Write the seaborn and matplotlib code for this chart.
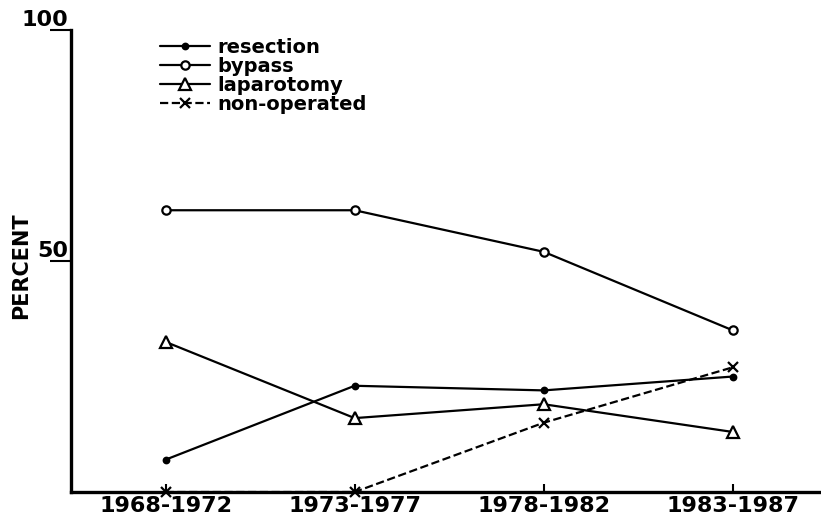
import seaborn as sns
import matplotlib.pyplot as plt
import pandas as pd

periods = ["1968-1972", "1973-1977", "1978-1982", "1983-1987"]
resection = [7, 23, 22, 25]
bypass = [61, 61, 52, 35]
laparotomy = [32.5, 16, 19, 13]
non_operated = [0, 0, 15, 27]

sns.set_theme(style="white")
plt.rcParams['font.family'] = ['DejaVu Sans']

fig = plt.figure(figsize=(8.21, 5.19), dpi=100)
ax = fig.add_axes([0.0865, 0.052, 0.912, 0.89])

x = list(range(len(periods)))
series = [
    ("resection", resection, dict(marker='o', markersize=4, linestyle='-', markerfacecolor='black')),
    ("bypass", bypass, dict(marker='o', markersize=6, linestyle='-', markerfacecolor='white')),
    ("laparotomy", laparotomy, dict(marker='^', markersize=8, linestyle='-', markerfacecolor='white')),
    ("non-operated", non_operated, dict(marker='x', markersize=7, linestyle='--', markerfacecolor='black')),
]
for name, vals, kw in series:
    df = pd.DataFrame({"period": x, "value": vals})
    sns.lineplot(data=df, x="period", y="value", ax=ax, color='black', linewidth=1.6,
                 markeredgecolor='black', markeredgewidth=1.6, label=name, clip_on=False, **kw)

ax.set_xlim(-0.5, 3.46)
ax.set_ylim(0, 100)
ax.set_xticks(x)
ax.set_xticklabels(periods, fontsize=16, fontweight='bold', color='black')
ax.set_yticks([50, 100])
ax.set_yticklabels(["50", "100"], fontsize=16, fontweight='bold', color='black')
for lab in ax.get_yticklabels():
    lab.set_va('bottom')
ax.tick_params(axis='x', bottom=True, direction='in', length=6, width=1.5, color='black', pad=3)
ax.tick_params(axis='y', left=True, direction='out', length=15, width=1.5, color='black', pad=-13)
ax.set_xlabel("")
ax.set_ylabel("PERCENT", fontsize=15, fontweight='bold', color='black')
ax.yaxis.set_label_coords(-0.053, 0.49)
sns.despine(ax=ax)
for side in ['left', 'bottom']:
    ax.spines[side].set_linewidth(2.4)
    ax.spines[side].set_color('black')
    ax.spines[side].set_zorder(5)

leg = ax.legend(loc='upper left', bbox_to_anchor=(0.1, 1.012), frameon=False, fontsize=14,
                handlelength=2.6, handletextpad=0.4, labelspacing=0.0, borderaxespad=0.3)
for t in leg.get_texts():
    t.set_fontweight('bold')
    t.set_color('black')

fig.savefig("out.png", dpi=100)
